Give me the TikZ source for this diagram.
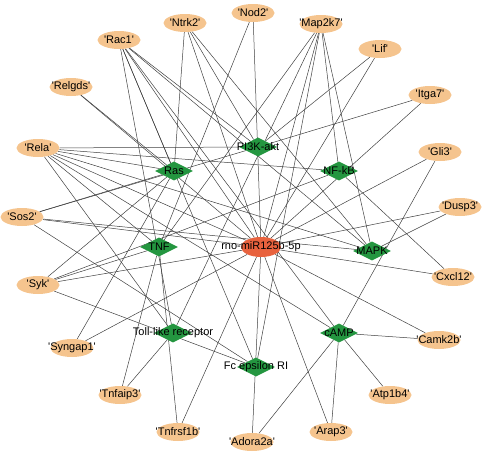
\documentclass[tikz,border=0pt]{standalone}
\usepackage{fontspec}
\setmainfont{Liberation Sans}
\usetikzlibrary{shapes.geometric,backgrounds}

\definecolor{genefill}{RGB}{245,196,142}
\definecolor{pathgreen}{RGB}{36,150,64}
\definecolor{mirred}{RGB}{232,98,62}

\newcommand{\gq}[1]{\textquotesingle#1\textquotesingle}

\begin{document}
\begin{tikzpicture}[
        x=1pt, y=-1pt,
        every node/.style={
            inner sep=0pt,
            font=\fontsize{11}{13}\selectfont,
            execute at begin node={\hbox to 0pt\bgroup\hss},
            execute at end node={\hss\egroup}
        },
        gene/.style={
            ellipse,
            fill=genefill,
            minimum width=43pt,
            minimum height=18pt
        },
        pathway/.style={
            diamond,
            fill=pathgreen,
            minimum width=38pt,
            minimum height=19pt
        },
        mirna/.style={
            ellipse,
            fill=mirred,
            minimum width=40pt,
            minimum height=20pt
        },
        edge/.style={
            draw=black!75,
            line width=0.5pt
        }
    ]

    \useasboundingbox (0,0) rectangle (484,455);

    % Genes
    \node[gene] (rac1)     at (119,40)  {\gq{Rac1}};
    \node[gene] (ntrk2)    at (185,23)  {\gq{Ntrk2}};
    \node[gene] (nod2)     at (253,13)  {\gq{Nod2}};
    \node[gene] (map2k7)   at (321,24)  {\gq{Map2k7}};
    \node[gene] (lif)      at (380,49)  {\gq{Lif}};
    \node[gene] (itga7)    at (430,95)  {\gq{Itga7}};
    \node[gene] (gli3)     at (440,152) {\gq{Gli3}};
    \node[gene] (dusp3)    at (460,207) {\gq{Dusp3}};
    \node[gene] (cxcl12)   at (453,277) {\gq{Cxcl12}};
    \node[gene] (camk2b)   at (439,340) {\gq{Camk2b}};
    \node[gene] (atp1b4)   at (390,395) {\gq{Atp1b4}};
    \node[gene] (arap3)    at (331,432) {\gq{Arap3}};
    \node[gene] (adora2a)  at (252,442) {\gq{Adora2a}};
    \node[gene] (tnfrsf1b) at (178,432) {\gq{Tnfrsf1b}};
    \node[gene] (tnfaip3)  at (120,395) {\gq{Tnfaip3}};
    \node[gene] (syngap1)  at (72,348)  {\gq{Syngap1}};
    \node[gene] (syk)      at (38,285)  {\gq{Syk}};
    \node[gene] (sos2)     at (22,217)  {\gq{Sos2}};
    \node[gene] (rela)     at (38,148)  {\gq{Rela}};
    \node[gene] (relgds)   at (71,87)   {\gq{Relgds}};

    % Pathways
    \node[pathway] (pik)  at (258,147) {PI3K-akt};
    \node[pathway] (ras)  at (174,171) {Ras};
    \node[pathway] (nfkb) at (339,171) {NF-kB};
    \node[pathway] (tnf)  at (159,247) {TNF};
    \node[pathway] (mapk) at (372,251) {MAPK};
    \node[pathway] (toll) at (173,333) {Toll-like receptor};
    \node[pathway] (camp) at (339,333) {cAMP};
    \node[pathway] (fce)  at (256,367) {Fc epsilon RI};

    % miRNA
    \node[mirna] (mir) at (261,247) {rno-miR125b-5p};

    % Edges
    \begin{scope}[on background layer]
    \foreach \g in {rac1,ntrk2,nod2,map2k7,lif,itga7,gli3,dusp3,cxcl12,camk2b,
                    arap3,adora2a,tnfrsf1b,syngap1,syk,sos2,rela,relgds}
        \draw[edge] (mir) -- (\g);
    \foreach \g in {rac1,ntrk2,lif,itga7,rela,sos2}
        \draw[edge] (pik) -- (\g);
    \foreach \g in {ntrk2,relgds,syngap1,sos2,rela,rac1,syk}
        \draw[edge] (ras) -- (\g);
    \foreach \g in {map2k7,cxcl12,syk,rela}
        \draw[edge] (nfkb) -- (\g);
    \foreach \g in {rela,map2k7,nod2,syk,tnfaip3,tnfrsf1b}
        \draw[edge] (tnf) -- (\g);
    \foreach \g in {rac1,ntrk2,map2k7,dusp3,sos2,rela}
        \draw[edge] (mapk) -- (\g);
    \foreach \g in {rac1,map2k7,rela,tnfaip3}
        \draw[edge] (toll) -- (\g);
    \foreach \g in {rac1,rela,gli3,camk2b,atp1b4,arap3,adora2a}
        \draw[edge] (camp) -- (\g);
    \foreach \g in {rac1,map2k7,syk,sos2}
        \draw[edge] (fce) -- (\g);
    \end{scope}

\end{tikzpicture}
\end{document}
